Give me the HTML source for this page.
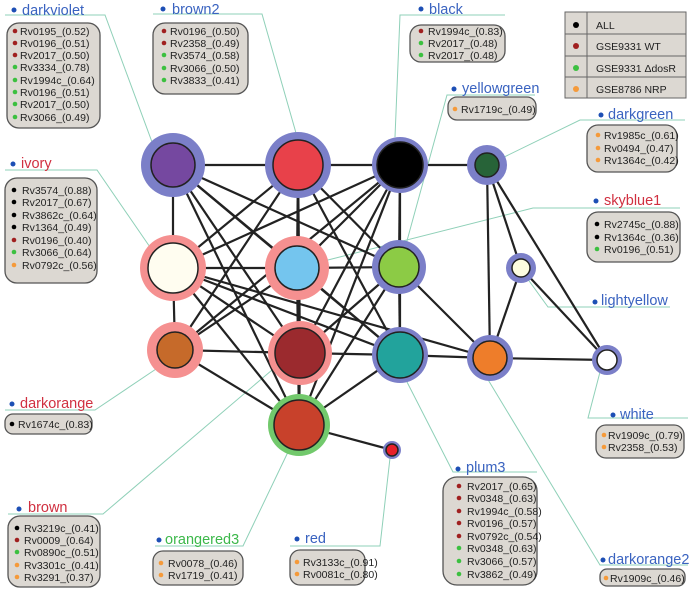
<!DOCTYPE html>
<html><head><meta charset="utf-8"><style>
html,body{margin:0;padding:0;background:#fff}
svg{display:block}
text{font-family:"Liberation Sans",Arial,sans-serif}
.t{font-size:10.5px;fill:#222}
.lb{font-size:14.5px}
.b{fill:#dcd8d2;stroke:#555;stroke-width:1.3}
.c{stroke:#8fd0b8;stroke-width:1;fill:none}
.e{stroke:#222;stroke-width:2.2}
.n{stroke:#222;stroke-width:1.5}
</style></head><body>
<svg width="697" height="591" viewBox="0 0 697 591" xmlns="http://www.w3.org/2000/svg">
<g class="c">
<polyline points="5,15 105,15 152,142"/>
<polyline points="153,14 262,14 296,133"/>
<polyline points="505,15 400,15 395,137"/>
<polyline points="535,95 447,95 405,248"/>
<polyline points="685,120 580,120 498,160"/>
<polyline points="680,208 533,208 320,262"/>
<polyline points="670,307 548,307 527,278"/>
<polyline points="5,170 97,170 152,250"/>
<polyline points="5,410 95,410 162,365"/>
<polyline points="8,514 103,514 272,370"/>
<polyline points="155,546 243,546 288,452"/>
<polyline points="290,546 380,546 390,458"/>
<polyline points="537,472 453,472 407,382"/>
<polyline points="688,418 588,418 600,372"/>
<polyline points="688,565 600,565 487,378"/>
</g>
<g class="e">
<line x1="173" y1="165" x2="298" y2="165"/><line x1="173" y1="165" x2="173" y2="268"/>
<line x1="173" y1="165" x2="297" y2="268"/><line x1="173" y1="165" x2="300" y2="353"/>
<line x1="173" y1="165" x2="299" y2="425"/><line x1="173" y1="165" x2="399" y2="267"/>
<line x1="173" y1="165" x2="400" y2="355"/>
<line x1="298" y1="165" x2="400" y2="165"/><line x1="298" y1="165" x2="297" y2="268"/>
<line x1="298" y1="165" x2="173" y2="268"/><line x1="298" y1="165" x2="175" y2="350"/>
<line x1="298" y1="165" x2="300" y2="353"/><line x1="298" y1="165" x2="400" y2="355"/>
<line x1="298" y1="165" x2="399" y2="267"/><line x1="298" y1="165" x2="299" y2="425"/>
<line x1="400" y1="165" x2="487" y2="165"/><line x1="400" y1="165" x2="399" y2="267"/>
<line x1="400" y1="165" x2="173" y2="268"/><line x1="400" y1="165" x2="297" y2="268"/>
<line x1="400" y1="165" x2="300" y2="353"/><line x1="400" y1="165" x2="175" y2="350"/>
<line x1="400" y1="165" x2="299" y2="425"/><line x1="400" y1="165" x2="400" y2="355"/>
<line x1="173" y1="268" x2="297" y2="268"/><line x1="173" y1="268" x2="175" y2="350"/>
<line x1="173" y1="268" x2="300" y2="353"/><line x1="173" y1="268" x2="400" y2="355"/>
<line x1="173" y1="268" x2="299" y2="425"/><line x1="173" y1="268" x2="490" y2="358"/>
<line x1="297" y1="268" x2="399" y2="267"/><line x1="297" y1="268" x2="300" y2="353"/>
<line x1="297" y1="268" x2="299" y2="425"/><line x1="297" y1="268" x2="400" y2="355"/>
<line x1="297" y1="268" x2="175" y2="350"/>
<line x1="399" y1="267" x2="400" y2="355"/><line x1="399" y1="267" x2="300" y2="353"/>
<line x1="399" y1="267" x2="299" y2="425"/><line x1="399" y1="267" x2="490" y2="358"/>
<line x1="175" y1="350" x2="300" y2="353"/><line x1="175" y1="350" x2="299" y2="425"/>
<line x1="300" y1="353" x2="400" y2="355"/><line x1="300" y1="353" x2="299" y2="425"/>
<line x1="400" y1="355" x2="299" y2="425"/><line x1="400" y1="355" x2="490" y2="358"/>
<line x1="299" y1="425" x2="392" y2="450"/>
<line x1="487" y1="165" x2="490" y2="358"/><line x1="487" y1="165" x2="521" y2="268"/>
<line x1="487" y1="165" x2="607" y2="360"/><line x1="521" y1="268" x2="490" y2="358"/>
<line x1="521" y1="268" x2="607" y2="360"/><line x1="490" y1="358" x2="607" y2="360"/>
</g>
<g>
<circle cx="173" cy="165" r="32" fill="#7b7fc8"/><circle class="n" cx="173" cy="165" r="22" fill="#7548a0"/>
<circle cx="298" cy="165" r="33" fill="#7b7fc8"/><circle class="n" cx="298" cy="165" r="25" fill="#e8414a"/>
<circle cx="400" cy="165" r="28" fill="#7b7fc8"/><circle class="n" cx="400" cy="165" r="23" fill="#000"/>
<circle cx="487" cy="165" r="20" fill="#7b7fc8"/><circle class="n" cx="487" cy="165" r="12" fill="#276338"/>
<circle cx="173" cy="268" r="33" fill="#f59090"/><circle class="n" cx="173" cy="268" r="25" fill="#fffdf0" stroke="#2a5a40"/>
<circle cx="297" cy="268" r="32" fill="#f59090"/><circle class="n" cx="297" cy="268" r="22" fill="#74c5ee"/>
<circle cx="399" cy="267" r="27" fill="#7b7fc8"/><circle class="n" cx="399" cy="267" r="20" fill="#8ccb45"/>
<circle cx="521" cy="268" r="15" fill="#7b7fc8"/><circle class="n" cx="521" cy="268" r="9" fill="#fdfde0"/>
<circle cx="175" cy="350" r="28" fill="#f59090"/><circle class="n" cx="175" cy="350" r="18" fill="#c66a2a"/>
<circle cx="300" cy="353" r="32" fill="#f59090"/><circle class="n" cx="300" cy="353" r="25" fill="#9b2a2e"/>
<circle cx="400" cy="355" r="28" fill="#7b7fc8"/><circle class="n" cx="400" cy="355" r="23" fill="#22a39c"/>
<circle cx="490" cy="358" r="23" fill="#7b7fc8"/><circle class="n" cx="490" cy="358" r="17" fill="#ee7d2a"/>
<circle cx="607" cy="360" r="15" fill="#7b7fc8"/><circle class="n" cx="607" cy="360" r="10" fill="#fff"/>
<circle cx="299" cy="425" r="31" fill="#72c96c"/><circle class="n" cx="299" cy="425" r="25" fill="#c8412b"/>
<circle cx="392" cy="450" r="9" fill="#7b7fc8"/><circle class="n" cx="392" cy="450" r="6" fill="#e8202a"/>
</g>
<g class="lb">
<circle cx="14" cy="10" r="2.5" fill="#1d4fb5"/><text x="22" y="15" fill="#3a63c0">darkviolet</text>
<circle cx="163" cy="9" r="2.5" fill="#1d4fb5"/><text x="172" y="14" fill="#3a63c0">brown2</text>
<circle cx="421" cy="9" r="2.5" fill="#1d4fb5"/><text x="429" y="14" fill="#3a63c0">black</text>
<circle cx="454" cy="89" r="2.5" fill="#1d4fb5"/><text x="462" y="93" fill="#3a63c0">yellowgreen</text>
<circle cx="601" cy="115" r="2.5" fill="#1d4fb5"/><text x="608" y="119" fill="#3a63c0">darkgreen</text>
<circle cx="596" cy="201" r="2.5" fill="#1d4fb5"/><text x="604" y="205" fill="#d03040">skyblue1</text>
<circle cx="595" cy="302" r="2.5" fill="#1d4fb5"/><text x="601" y="305" fill="#3a63c0">lightyellow</text>
<circle cx="13" cy="164" r="2.5" fill="#1d4fb5"/><text x="21" y="168" fill="#d03040">ivory</text>
<circle cx="12" cy="404" r="2.5" fill="#1d4fb5"/><text x="20" y="408" fill="#d03040">darkorange</text>
<circle cx="19" cy="509" r="2.5" fill="#1d4fb5"/><text x="28" y="512" fill="#d03040">brown</text>
<circle cx="159" cy="540" r="2.5" fill="#1d4fb5"/><text x="165" y="544" fill="#3cb84a">orangered3</text>
<circle cx="297" cy="539" r="2.5" fill="#1d4fb5"/><text x="305" y="543" fill="#3a63c0">red</text>
<circle cx="458" cy="469" r="2.5" fill="#1d4fb5"/><text x="466" y="472" fill="#3a63c0">plum3</text>
<circle cx="613" cy="415" r="2.5" fill="#1d4fb5"/><text x="620" y="419" fill="#3a63c0">white</text>
<circle cx="603" cy="560" r="2.5" fill="#1d4fb5"/><text x="608" y="564" fill="#3a63c0">darkorange2</text>
</g>
<g>
<rect x="565" y="12" width="121" height="86" fill="#dcd8d2" stroke="#666"/>
<line x1="587" y1="12" x2="587" y2="98" stroke="#666"/>
<line x1="565" y1="34" x2="686" y2="34" stroke="#666"/>
<line x1="565" y1="56" x2="686" y2="56" stroke="#666"/>
<line x1="565" y1="77" x2="686" y2="77" stroke="#666"/>
<circle cx="576" cy="25" r="3" fill="#000"/><circle cx="576" cy="46" r="3" fill="#a02020"/>
<circle cx="576" cy="68" r="3" fill="#3cc040"/><circle cx="576" cy="89" r="3" fill="#f59a3a"/>
<text class="t" x="596" y="29">ALL</text><text class="t" x="596" y="50">GSE9331 WT</text>
<text class="t" x="596" y="72">GSE9331 ΔdosR</text><text class="t" x="596" y="93">GSE8786 NRP</text>
</g>
<g>
<rect class="b" x="7" y="23" width="93" height="105" rx="12"/>
<rect class="b" x="153" y="23" width="95" height="71" rx="12"/>
<rect class="b" x="410" y="25" width="95" height="37" rx="11"/>
<rect class="b" x="448" y="97" width="88" height="23" rx="9"/>
<rect class="b" x="587" y="125" width="90" height="47" rx="11"/>
<rect class="b" x="587" y="212" width="93" height="50" rx="11"/>
<rect class="b" x="5" y="178" width="92" height="105" rx="12"/>
<rect class="b" x="5" y="414" width="87" height="20" rx="8"/>
<rect class="b" x="8" y="516" width="92" height="71" rx="12"/>
<rect class="b" x="153" y="551" width="90" height="34" rx="10"/>
<rect class="b" x="290" y="550" width="75" height="35" rx="10"/>
<rect class="b" x="443" y="477" width="94" height="108" rx="14"/>
<rect class="b" x="596" y="425" width="88" height="33" rx="10"/>
<rect class="b" x="600" y="569" width="85" height="17" rx="7"/>
</g>
<g class="t">
<circle cx="15" cy="31" r="2.3" fill="#a02020"/><text x="20" y="35">Rv0195_(0.52)</text>
<circle cx="15" cy="43" r="2.3" fill="#a02020"/><text x="20" y="47">Rv0196_(0.51)</text>
<circle cx="15" cy="55" r="2.3" fill="#a02020"/><text x="20" y="59">Rv2017_(0.50)</text>
<circle cx="15" cy="67" r="2.3" fill="#3cc040"/><text x="20" y="71">Rv3334_(0.78)</text>
<circle cx="15" cy="80" r="2.3" fill="#3cc040"/><text x="20" y="84">Rv1994c_(0.64)</text>
<circle cx="15" cy="92" r="2.3" fill="#3cc040"/><text x="20" y="96">Rv0196_(0.51)</text>
<circle cx="15" cy="104" r="2.3" fill="#3cc040"/><text x="20" y="108">Rv2017_(0.50)</text>
<circle cx="15" cy="117" r="2.3" fill="#3cc040"/><text x="20" y="121">Rv3066_(0.49)</text>
<circle cx="164" cy="31" r="2.3" fill="#a02020"/><text x="170" y="35">Rv0196_(0.50)</text>
<circle cx="164" cy="43" r="2.3" fill="#a02020"/><text x="170" y="47">Rv2358_(0.49)</text>
<circle cx="164" cy="55" r="2.3" fill="#3cc040"/><text x="170" y="59">Rv3574_(0.58)</text>
<circle cx="164" cy="68" r="2.3" fill="#3cc040"/><text x="170" y="72">Rv3066_(0.50)</text>
<circle cx="164" cy="80" r="2.3" fill="#3cc040"/><text x="170" y="84">Rv3833_(0.41)</text>
<circle cx="421" cy="31" r="2.3" fill="#a02020"/><text x="428" y="35">Rv1994c_(0.83)</text>
<circle cx="421" cy="43" r="2.3" fill="#3cc040"/><text x="428" y="47">Rv2017_(0.48)</text>
<circle cx="421" cy="55" r="2.3" fill="#3cc040"/><text x="428" y="59">Rv2017_(0.48)</text>
<circle cx="455" cy="109" r="2.3" fill="#f59a3a"/><text x="461" y="113">Rv1719c_(0.49)</text>
<circle cx="598" cy="135" r="2.3" fill="#f59a3a"/><text x="604" y="139">Rv1985c_(0.61)</text>
<circle cx="598" cy="148" r="2.3" fill="#f59a3a"/><text x="604" y="152">Rv0494_(0.47)</text>
<circle cx="598" cy="160" r="2.3" fill="#f59a3a"/><text x="604" y="164">Rv1364c_(0.42)</text>
<circle cx="597" cy="224" r="2.3" fill="#000"/><text x="604" y="228">Rv2745c_(0.88)</text>
<circle cx="597" cy="237" r="2.3" fill="#000"/><text x="604" y="241">Rv1364c_(0.36)</text>
<circle cx="597" cy="249" r="2.3" fill="#3cc040"/><text x="604" y="253">Rv0196_(0.51)</text>
<circle cx="14" cy="190" r="2.3" fill="#000"/><text x="22" y="194">Rv3574_(0.88)</text>
<circle cx="14" cy="202" r="2.3" fill="#000"/><text x="22" y="206">Rv2017_(0.67)</text>
<circle cx="14" cy="215" r="2.3" fill="#000"/><text x="22" y="219">Rv3862c_(0.64)</text>
<circle cx="14" cy="227" r="2.3" fill="#000"/><text x="22" y="231">Rv1364_(0.49)</text>
<circle cx="14" cy="240" r="2.3" fill="#a02020"/><text x="22" y="244">Rv0196_(0.40)</text>
<circle cx="14" cy="252" r="2.3" fill="#3cc040"/><text x="22" y="256">Rv3066_(0.64)</text>
<circle cx="14" cy="265" r="2.3" fill="#f59a3a"/><text x="22" y="269">Rv0792c_(0.56)</text>
<circle cx="12" cy="424" r="2.3" fill="#000"/><text x="18" y="428">Rv1674c_(0.83)</text>
<circle cx="17" cy="528" r="2.3" fill="#000"/><text x="24" y="532">Rv3219c_(0.41)</text>
<circle cx="17" cy="540" r="2.3" fill="#a02020"/><text x="24" y="544">Rv0009_(0.64)</text>
<circle cx="17" cy="552" r="2.3" fill="#3cc040"/><text x="24" y="556">Rv0890c_(0.51)</text>
<circle cx="17" cy="565" r="2.3" fill="#f59a3a"/><text x="24" y="569">Rv3301c_(0.41)</text>
<circle cx="17" cy="577" r="2.3" fill="#f59a3a"/><text x="24" y="581">Rv3291_(0.37)</text>
<circle cx="161" cy="563" r="2.3" fill="#f59a3a"/><text x="168" y="567">Rv0078_(0.46)</text>
<circle cx="161" cy="575" r="2.3" fill="#f59a3a"/><text x="168" y="579">Rv1719_(0.41)</text>
<circle cx="297" cy="562" r="2.3" fill="#f59a3a"/><text x="303" y="566">Rv3133c_(0.91)</text>
<circle cx="297" cy="574" r="2.3" fill="#f59a3a"/><text x="303" y="578">Rv0081c_(0.80)</text>
<circle cx="459" cy="486" r="2.3" fill="#a02020"/><text x="467" y="490">Rv2017_(0.65)</text>
<circle cx="459" cy="498" r="2.3" fill="#a02020"/><text x="467" y="502">Rv0348_(0.63)</text>
<circle cx="459" cy="511" r="2.3" fill="#a02020"/><text x="467" y="515">Rv1994c_(0.58)</text>
<circle cx="459" cy="523" r="2.3" fill="#a02020"/><text x="467" y="527">Rv0196_(0.57)</text>
<circle cx="459" cy="536" r="2.3" fill="#a02020"/><text x="467" y="540">Rv0792c_(0.54)</text>
<circle cx="459" cy="548" r="2.3" fill="#3cc040"/><text x="467" y="552">Rv0348_(0.63)</text>
<circle cx="459" cy="561" r="2.3" fill="#3cc040"/><text x="467" y="565">Rv3066_(0.57)</text>
<circle cx="459" cy="574" r="2.3" fill="#3cc040"/><text x="467" y="578">Rv3862_(0.49)</text>
<circle cx="604" cy="435" r="2.3" fill="#f59a3a"/><text x="608" y="439">Rv1909c_(0.79)</text>
<circle cx="604" cy="447" r="2.3" fill="#f59a3a"/><text x="608" y="451">Rv2358_(0.53)</text>
<circle cx="606" cy="578" r="2.3" fill="#f59a3a"/><text x="610" y="582">Rv1909c_(0.46)</text>
</g>
</svg>
</body></html>
